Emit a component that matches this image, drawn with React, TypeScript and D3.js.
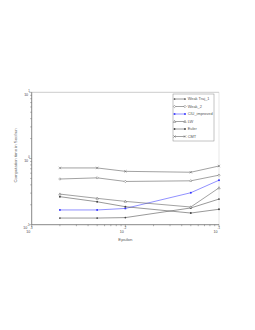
import React from "react";
import * as d3 from "d3";

const epsilon = [0.002, 0.005, 0.01, 0.05, 0.1];
const seriesNames = ["Weak Traj_1", "Weak_2", "CIU_improved", "LW", "Euler", "CMT"];
const weakTraj1 = [0.126, 0.126, 0.128, 0.179, 0.244];
const weak2 = [0.49, 0.51, 0.45, 0.46, 0.56];
const ciuImproved = [0.167, 0.167, 0.176, 0.304, 0.47];
const lw = [0.29, 0.25, 0.225, 0.185, 0.36];
const euler = [0.265, 0.222, 0.187, 0.15, 0.171];
const cmt = [0.72, 0.72, 0.64, 0.62, 0.77];
const seriesValues = [weakTraj1, weak2, ciuImproved, lw, euler, cmt];
const seriesColors = ["#444", "#555", "#3535ff", "#555", "#444", "#555"];
const seriesMarkers = ["dot", "diamond", "square", "triangle", "star", "x"];
const xTickExps = [-3, -2, -1];
const yTickExps = [-1, 0, 1];
const xTitle = "Epsilon";
const yTitle = "Computation time in Sec/run";

const W = 255, H = 330;
const L = 31.7, R = 219, T = 92.3, B = 224.7;
const FONT = "'Liberation Sans', Arial, sans-serif";

function Marker({ type, x, y, color }: { type: string; x: number; y: number; color: string }) {
  const s = 1.2;
  switch (type) {
    case "dot":
      return <circle cx={x} cy={y} r={0.85} fill={color} />;
    case "diamond":
      return <path d={`M${x},${y - s}L${x + s},${y}L${x},${y + s}L${x - s},${y}Z`} fill="white" stroke={color} strokeWidth={0.45} />;
    case "square":
      return <rect x={x - 0.85} y={y - 0.85} width={1.7} height={1.7} fill={color} />;
    case "triangle":
      return <path d={`M${x},${y - s}L${x + s},${y + s * 0.8}L${x - s},${y + s * 0.8}Z`} fill="white" stroke={color} strokeWidth={0.45} />;
    case "star":
      return <circle cx={x} cy={y} r={0.95} fill={color} />;
    case "x":
    default:
      return <path d={`M${x - s},${y - s}L${x + s},${y + s}M${x - s},${y + s}L${x + s},${y - s}`} stroke={color} strokeWidth={0.45} />;
  }
}

export default function App() {
  const x = d3.scaleLog().domain([1e-3, 1e-1]).range([L, R]);
  const y = d3.scaleLog().domain([0.1, 10]).range([B, T]);
  const xTicks = x.ticks();
  const yTicks = y.ticks();
  const line = d3
    .line<number>()
    .x((_, i) => x(epsilon[i]))
    .y((d) => y(d));

  const isMajor = (v: number) => Math.abs(Math.log10(v) - Math.round(Math.log10(v))) < 1e-9;

  const legendX = 173, legendY = 94, legendW = 41, legendH = 47;
  const legendRow = 7.5;

  return (
    <svg width={W} height={H} style={{ position: "absolute", left: 0, top: 0, background: "white" }} fontFamily={FONT}>
      <rect x={0} y={0} width={W} height={H} fill="white" />
      <line x1={L} y1={T} x2={R} y2={T} stroke="#aaa" strokeWidth={0.6} />
      <line x1={R} y1={T} x2={R} y2={B} stroke="#ccc" strokeWidth={0.5} />
      <line x1={L} y1={T} x2={L} y2={B} stroke="#555" strokeWidth={0.7} />
      <line x1={L} y1={B} x2={R} y2={B} stroke="#555" strokeWidth={0.7} />
      {xTicks.map((t, i) => (
        <line key={"xt" + i} x1={x(t)} x2={x(t)} y1={B} y2={B + (isMajor(t) ? 2.5 : 1.5)} stroke="#666" strokeWidth={0.5} />
      ))}
      {yTicks.map((t, i) => (
        <line key={"yt" + i} x1={L} x2={L - (isMajor(t) ? 2.5 : 1.5)} y1={y(t)} y2={y(t)} stroke="#666" strokeWidth={0.5} />
      ))}
      {xTickExps.map((e) => (
        <text key={"xl" + e} x={x(Math.pow(10, e)) + 1} y={B + 8.3} fontSize={3.6} textAnchor="end" fill="#444">
          10<tspan dy={-3.6} fontSize={2.8}>{e}</tspan>
        </text>
      ))}
      {yTickExps.map((e) => (
        <text key={"yl" + e} x={L - 2} y={y(Math.pow(10, e)) + (e === -1 ? 4.5 : 3.2)} fontSize={3.6} textAnchor="end" fill="#444">
          10<tspan dy={-3.6} fontSize={2.8}>{e}</tspan>
        </text>
      ))}
      <text x={(L + R) / 2} y={241} fontSize={4.3} textAnchor="middle" fill="#555">{xTitle}</text>
      <text transform={`translate(17,155.5) rotate(-90)`} fontSize={4.3} textAnchor="middle" fill="#666">{yTitle}</text>
      {seriesValues.map((vals, si) => (
        <g key={"s" + si}>
          <path d={line(vals) || ""} fill="none" stroke={seriesColors[si]} strokeWidth={0.55} />
          {vals.map((v, i) => (
            <Marker key={i} type={seriesMarkers[si]} x={x(epsilon[i])} y={y(v)} color={seriesColors[si]} />
          ))}
        </g>
      ))}
      <rect x={legendX} y={legendY} width={legendW} height={legendH} fill="white" stroke="#888" strokeWidth={0.5} />
      {seriesNames.map((name, i) => {
        const ly = legendY + 5 + i * legendRow;
        return (
          <g key={"lg" + i}>
            <line x1={legendX + 1.5} x2={legendX + 12} y1={ly} y2={ly} stroke={seriesColors[i]} strokeWidth={0.55} />
            <Marker type={seriesMarkers[i]} x={legendX + 1.5} y={ly} color={seriesColors[i]} />
            <Marker type={seriesMarkers[i]} x={legendX + 12} y={ly} color={seriesColors[i]} />
            <text x={legendX + 14.7} y={ly + 1.4} fontSize={3.9} fill="#555">{name}</text>
          </g>
        );
      })}
    </svg>
  );
}
